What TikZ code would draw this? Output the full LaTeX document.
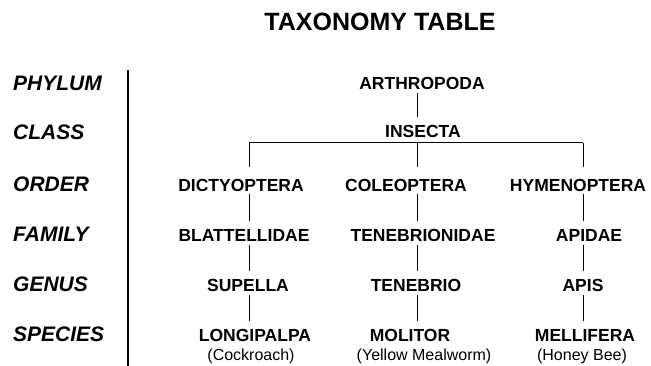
\documentclass[tikz,border=0pt]{standalone}
\usepackage{fontspec}
\setmainfont{Liberation Sans}
\usetikzlibrary{calc}
\begin{document}
\begin{tikzpicture}[x=1pt,y=-1pt,
  taxon/.style={font=\fontsize{17.5}{20}\selectfont\bfseries,inner sep=0pt,text height=12.5pt,text depth=0pt},
  common/.style={font=\fontsize{16}{18}\selectfont,inner sep=0pt},
  rank/.style={font=\fontsize{21}{24}\selectfont\bfseries\itshape,inner sep=0pt,anchor=west,text height=15pt,text depth=0pt},
  link/.style={line width=1pt,shorten <=3pt,shorten >=8pt}]
\useasboundingbox (0,0) rectangle (651,366);
\node[font=\fontsize{25}{30}\selectfont\bfseries,inner sep=0pt] (title) at (380,22) {TAXONOMY TABLE};
% ranks on the left
\foreach \r/\y in {PHYLUM/83,CLASS/132,ORDER/184,FAMILY/234,GENUS/284,SPECIES/334}
  \node[rank] (r-\r) at (13,\y) {\r};
\coordinate (sepT) at (128,70); \coordinate (sepB) at (128,366);
\draw[line width=1.2pt] (sepT) -- (sepB);
% columns of the tree
\coordinate (l1) at (249,0); \coordinate (l2) at (417,0); \coordinate (l3) at (583,0);
\node[taxon] (arth) at (422,83.5) {ARTHROPODA};
\node[taxon] (ins) at (423,131) {INSECTA};
\node[taxon] (dict) at (241,185) {DICTYOPTERA};
\node[taxon] (cole) at (406,185) {COLEOPTERA};
\node[taxon] (hyme) at (578,185) {HYMENOPTERA};
\node[taxon] (blat) at (244,235.5) {BLATTELLIDAE};
\node[taxon] (tenf) at (423,235.5) {TENEBRIONIDAE};
\node[taxon] (apid) at (589,235.5) {APIDAE};
\node[taxon] (supe) at (248,285.5) {SUPELLA};
\node[taxon] (teng) at (416,285.5) {TENEBRIO};
\node[taxon] (apis) at (583,285.5) {APIS};
\node[taxon] (long) at (255,335.5) {LONGIPALPA};
\node[taxon] (moli) at (410,335.5) {MOLITOR};
\node[taxon] (mell) at (585,335.5) {MELLIFERA};
\node[common] (roach) at (251,356) {(Cockroach)};
\node[common] (worm) at (424,356) {(Yellow Mealworm)};
\node[common] (bee) at (582,356) {(Honey Bee)};
% connectors
\draw[link] (arth.south -| l2) -- (ins.north -| l2);
\coordinate (bar) at ($(ins.south)+(0,5.5)$);
\draw[line width=1pt] (bar -| l1) -- (bar -| l3);
\draw[line width=1pt,shorten >=12pt] (bar -| l1) -- (dict.north -| l1);
\draw[line width=1pt,shorten >=12pt] (bar -| l2) -- (cole.north -| l2);
\draw[line width=1pt,shorten >=12pt] (bar -| l3) -- (hyme.north -| l3);
\draw[link] (dict.south -| l1) -- (blat.north -| l1);
\draw[link] (blat.south -| l1) -- (supe.north -| l1);
\draw[link] (supe.south -| l1) -- (long.north -| l1);
\draw[link] (cole.south -| l2) -- (tenf.north -| l2);
\draw[link] (tenf.south -| l2) -- (teng.north -| l2);
\draw[link] (teng.south -| l2) -- (moli.north -| l2);
\draw[link] (hyme.south -| l3) -- (apid.north -| l3);
\draw[link] (apid.south -| l3) -- (apis.north -| l3);
\draw[link] (apis.south -| l3) -- (mell.north -| l3);
\end{tikzpicture}
\end{document}
